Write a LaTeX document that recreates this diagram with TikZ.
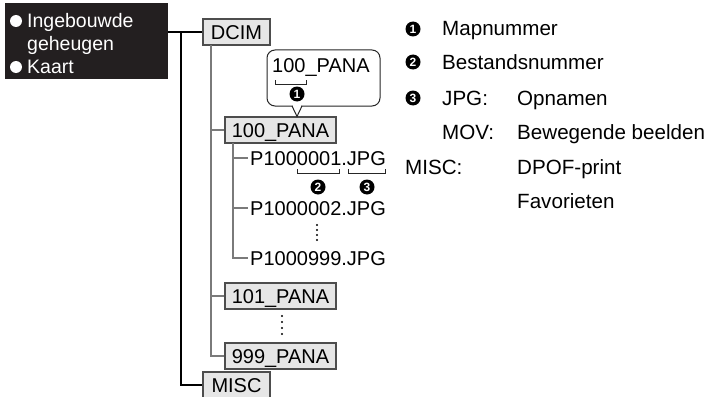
\documentclass[tikz,border=0pt]{standalone}
\usepackage{fontspec}
\setmainfont{Liberation Sans}
\definecolor{blk}{HTML}{231F20}
\definecolor{boxfill}{HTML}{E6E6E6}
\definecolor{boxline}{HTML}{4D4D4D}
\definecolor{lineg}{HTML}{7A7A7A}
\begin{document}
\begin{tikzpicture}[x=1pt,y=-1pt,
  every node/.style={font=\fontsize{20}{24}\selectfont},
  fbox/.style={draw=boxline, fill=boxfill, line width=1.1pt, inner sep=0pt, text height=14.3pt, text depth=0pt, minimum height=26pt},
  blackln/.style={draw=black, line width=1.3pt},
  grayln/.style={draw=lineg, line width=1.3pt},
  numtxt/.style={text=white, inner sep=0pt, font=\bfseries\fontsize{12}{12}\selectfont},
  lbl/.style={anchor=base west, inner sep=0pt},
  leg/.style={anchor=base west, inner sep=0pt, font=\fontsize{20.6}{24}\selectfont},
  memtxt/.style={anchor=base west, inner sep=0pt, text=white, font=\fontsize{19.5}{22}\selectfont},
  brk/.style={draw=black!85, line width=0.9pt},
  callbox/.style={draw=black!85, line width=1pt, rounded corners=8pt, fill=white, inner sep=0pt}
]
\useasboundingbox (0,0) rectangle (714,396);
\clip (0,0) rectangle (714,396);

% storage box
\node[fill=blk, minimum width=163pt, minimum height=76pt, inner sep=0pt] (mem) at (86.5,41) {};
\fill[white] (16,21) circle[radius=6pt];
\fill[white] (16,67) circle[radius=6pt];
\node[memtxt] (m1) at (27,28) {Ingebouwde};
\node[memtxt] (m2) at (27,51) {geheugen};
\node[memtxt] (m3) at (27,74) {Kaart};

% folders
\node[fbox, minimum width=67pt] (dcim) at (236.5,32) {DCIM};
\node[fbox, minimum width=67pt] (misc) at (236.5,385) {MISC};
\node[fbox, minimum width=111pt] (p100) at (280.5,130) {100\_PANA};
\node[fbox, minimum width=111pt] (p101) at (280.5,296) {101\_PANA};
\node[fbox, minimum width=111pt] (p999) at (280.5,356) {999\_PANA};

% files
\node[lbl] (f1) at (250,165) {P1000001.JPG};
\node[lbl] (f2) at (250,215) {P1000002.JPG};
\node[lbl] (f3) at (250,265) {P1000999.JPG};

% black connectors
\coordinate (trunk) at (181,32);
\draw[blackln] (mem.east |- dcim.west) -- (dcim.west);
\draw[blackln] (trunk) |- (misc.west);

% gray connectors
\coordinate (gtop) at (211,45);
\draw[grayln] (gtop) |- (p999.west);
\draw[grayln] (gtop |- p100.west) -- (p100.west);
\draw[grayln] (gtop |- p101.west) -- (p101.west);

\coordinate (ftop) at (233,143);
\draw[grayln] (ftop) |- ([xshift=-2pt]f3.west);
\draw[grayln] (ftop |- f1.west) -- ([xshift=-2pt]f1.west);
\draw[grayln] (ftop |- f2.west) -- ([xshift=-2pt]f2.west);

% vertical dots
\foreach \y in {225,230,235,240} \fill (317,\y) circle[radius=1.2pt];
\foreach \y in {316,322,328,334} \fill (282,\y) circle[radius=1.2pt];

% callout
\node[callbox, minimum width=113pt, minimum height=56pt] (callout) at (323.5,78) {};
\draw[white, line width=2pt] (292.8,106) -- (301.2,106);
\draw[draw=black!85, line width=1pt] (292,106) -- (p100.north -| 297,0) -- (302,106);
\node[lbl] (ct) at (272,73) {100\_PANA};
\draw[brk] (275,80) |- (306,84) -- (306,80);
\fill (297,94) circle[radius=7.5pt] node[numtxt] (n1a) {1};

% brackets under file name
\draw[brk] (297,169) |- (339,173) -- (339,169);
\draw[brk] (348,169) |- (385,173) -- (385,169);
\fill (318,187) circle[radius=7.5pt] node[numtxt] (n2a) {2};
\fill (367,187) circle[radius=7.5pt] node[numtxt] (n3a) {3};

% legend
\fill (413,29) circle[radius=7.5pt] node[numtxt] (l1) {1};
\fill (413,62) circle[radius=7.5pt] node[numtxt] (l2) {2};
\fill (413,98) circle[radius=7.5pt] node[numtxt] (l3) {3};
\node[leg] (t1) at (442,36) {Mapnummer};
\node[leg] (t2) at (442,69) {Bestandsnummer};
\node[leg] (t3) at (442,105) {JPG:};
\node[leg] (t3b) at (517,105) {Opnamen};
\node[leg] (t4) at (442,139) {MOV:};
\node[leg] (t4b) at (517,139) {Bewegende beelden};
\node[leg] (t5) at (405,174) {MISC:};
\node[leg] (t5b) at (517,174) {DPOF-print};
\node[leg] (t6b) at (517,208) {Favorieten};
\end{tikzpicture}
\end{document}
